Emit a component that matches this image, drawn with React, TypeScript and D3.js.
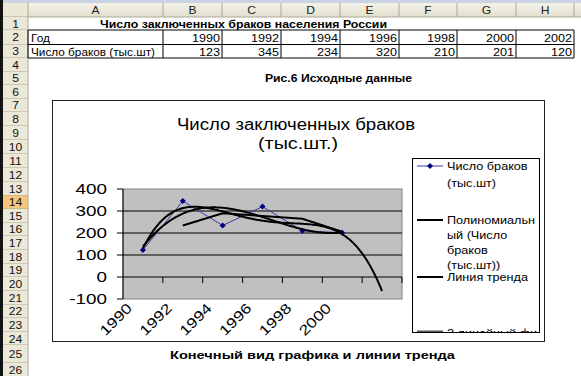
import React from 'react';
import * as d3 from 'd3';

// ---------- data ----------
const years = [1990, 1992, 1994, 1996, 1998, 2000, 2002];
const marriages = [123, 345, 234, 320, 210, 201, 120];
const chartYears = ['1990', '1992', '1994', '1996', '1998', '2000'];
const chartValues = [123, 345, 234, 320, 210, 201];
const yTicks = [-100, 0, 100, 200, 300, 400];
const colLetters = ['A', 'B', 'C', 'D', 'E', 'F', 'G', 'H'];
const sheetTitle = 'Число заключенных браков населения России';
const rowLabelYear = 'Год';
const rowLabelValue = 'Число браков (тыс.шт)';
const figCaption = 'Рис.6 Исходные данные';
const bottomCaption = 'Конечный вид графика и линии тренда';
const chartTitle = ['Число заключенных браков', '(тыс.шт.)'];
const legendSeries = ['Число браков', '(тыс.шт)'];
const legendPoly = ['Полиномиальн', 'ый (Число', 'браков', '(тыс.шт))'];
const legendTrend = ['Линия тренда'];
const legendMA = ['2 линейный фильтр'];
const polyDegree = 4;
const polyForward = 1;
const trendDegree = 3;
const maPeriod = 2;

// ---------- layout ----------
const W = 581, H = 376;
const FONT = "Arial, 'Liberation Sans', sans-serif";
const colEdges = [28, 163, 222, 281, 340, 399, 457, 516, 574, 640];
const rowEdges = [17, 30, 44.5, 58, 71.5, 85, 98.5, 112, 125.5, 139.5, 153.5, 167.5, 181.5, 195.5, 209, 222.5, 236, 250, 263.5, 277, 291, 304.5, 318, 332, 345, 363, 377];
const activeRow = 14;

function polyfit(xs: number[], ys: number[], deg: number): number[] {
  const m = deg + 1;
  const A: number[][] = Array.from({ length: m }, () => new Array(m + 1).fill(0));
  for (let i = 0; i < xs.length; i++) {
    for (let r = 0; r < m; r++) {
      for (let c = 0; c < m; c++) A[r][c] += Math.pow(xs[i], r + c);
      A[r][m] += ys[i] * Math.pow(xs[i], r);
    }
  }
  for (let p = 0; p < m; p++) {
    let best = p;
    for (let r = p + 1; r < m; r++) if (Math.abs(A[r][p]) > Math.abs(A[best][p])) best = r;
    [A[p], A[best]] = [A[best], A[p]];
    for (let r = 0; r < m; r++) {
      if (r === p) continue;
      const f = A[r][p] / A[p][p];
      for (let c = p; c <= m; c++) A[r][c] -= f * A[p][c];
    }
  }
  return A.map((row, i) => row[m] / row[i]);
}
const evalPoly = (c: number[], x: number) => c.reduce((s, v, i) => s + v * Math.pow(x, i), 0);

function Txt(p: any) {
  const { x, y, size, anchor = 'start', bold = false, len, children, fill = '#000', rotate = 0, sx = 1 } = p;
  return (
    <text
      transform={`translate(${x},${y}) rotate(${rotate}) scale(${sx},1)`}
      fontSize={size}
      fontFamily={FONT}
      fontWeight={bold ? 'bold' : 'normal'}
      textAnchor={anchor}
      fill={fill}
      textLength={len}
      lengthAdjust={len ? 'spacingAndGlyphs' : undefined}
    >
      {children}
    </text>
  );
}

export default function App() {
  // chart scales
  const nCat = chartValues.length + polyForward;
  const cats = d3.range(1, nCat + 1);
  const plotL = 123, plotR = 402, plotT = 189, plotB = 299;
  const xBand = d3.scaleBand<number>().domain(cats).range([plotL, plotR]);
  const xc = (i: number) => (xBand(i) as number) + xBand.bandwidth() / 2;
  const xLin = d3.scaleLinear().domain([0.5, nCat + 0.5]).range([plotL, plotR]);
  const y = d3.scaleLinear().domain([-100, 400]).range([plotB, plotT]);

  const xs = chartValues.map((_, i) => i + 1);
  const cPoly = polyfit(xs, chartValues, polyDegree);
  const cTrend = polyfit(xs, chartValues, trendDegree);
  const sample = (from: number, to: number, c: number[]) =>
    d3.range(0, 201).map((k) => {
      const xv = from + ((to - from) * k) / 200;
      return [xv, evalPoly(c, xv)] as [number, number];
    });
  const curve = d3.line<[number, number]>().x((d) => xLin(d[0])).y((d) => y(d[1]));
  const polyPath = curve(sample(1, chartValues.length + polyForward, cPoly)) || '';
  const trendPath = curve(sample(1, chartValues.length, cTrend)) || '';
  const ma: [number, number][] = [];
  for (let i = maPeriod - 1; i < chartValues.length; i++) {
    const s = d3.sum(chartValues.slice(i - maPeriod + 1, i + 1)) / maPeriod;
    ma.push([i + 1, s]);
  }
  const maPath = curve(ma) || '';
  const dataLine = d3.line<number>().x((_, i) => xc(i + 1)).y((d) => y(d));
  const diamond = (cx: number, cy: number, r = 3) => `M${cx},${cy - r}L${cx + r},${cy}L${cx},${cy + r}L${cx - r},${cy}Z`;

  const headerBg = '#ebe8d8';
  const headerLine = '#aca899';

  // legend
  const lgL = 412, lgR = 539, lgT = 158, lgB = 332;
  const symX1 = 417, symX2 = 443, lgTextX = 447;
  const lgSize = 11.5, lgSx = 1.1;

  return (
    <svg width={W} height={H} style={{ position: 'absolute', left: 0, top: 0, background: '#fff' }}>
      <defs>
        <clipPath id="lgclip">
          <rect x={lgL} y={lgT} width={lgR - lgL} height={lgB - lgT} />
        </clipPath>
        <linearGradient id="hdr" x1="0" y1="0" x2="0" y2="1">
          <stop offset="0" stopColor="#f4f2e8" />
          <stop offset="1" stopColor="#e2dfcc" />
        </linearGradient>
      </defs>
      <rect x={0} y={0} width={W} height={H} fill="#fff" />
      {/* top strip */}
      <rect x={0} y={0} width={W} height={3} fill="#c9d3e3" />
      {/* column headers */}
      <rect x={0} y={3} width={W} height={14} fill="url(#hdr)" />
      <rect x={3} y={3} width={25} height={14} fill={headerBg} />
      {colLetters.map((c, i) => (
        <g key={c}>
          <line x1={colEdges[i + 1]} x2={colEdges[i + 1]} y1={3} y2={17} stroke={headerLine} />
          <Txt x={(colEdges[i] + colEdges[i + 1]) / 2} y={14} size={10.5} sx={1.15} anchor="middle" fill="#222">
            {c}
          </Txt>
        </g>
      ))}
      <line x1={0} x2={W} y1={17} y2={17} stroke={headerLine} />
      {/* row headers */}
      {rowEdges.slice(0, -1).map((t, i) => {
        const b = rowEdges[i + 1];
        const active = i + 1 === activeRow;
        return (
          <g key={i}>
            <rect x={3} y={t} width={25} height={b - t} fill={active ? '#f7c57c' : headerBg} />
            <line x1={3} x2={28} y1={b} y2={b} stroke={headerLine} />
            <Txt x={15.5} y={(t + b) / 2 + 4} size={10.5} sx={1.15} anchor="middle" fill="#111">
              {i + 1}
            </Txt>
          </g>
        );
      })}
      <line x1={28} x2={28} y1={3} y2={H} stroke={headerLine} />
      <rect x={0} y={0} width={3} height={H} fill="#111" />

      {/* table */}
      <Txt x={243.5} y={27.5} size={10.5} bold anchor="middle" len={287}>
        {sheetTitle}
      </Txt>
      {[rowEdges[1], rowEdges[2], rowEdges[3]].map((yy, i) => (
        <line key={'h' + i} x1={28} x2={colEdges[8]} y1={yy} y2={yy} stroke="#000" />
      ))}
      {colEdges.slice(0, 9).map((xx, i) => (
        <line key={'v' + i} x1={xx} x2={xx} y1={rowEdges[1]} y2={rowEdges[3]} stroke="#000" />
      ))}
      <Txt x={31} y={41.5} size={10.5} len={19}>{rowLabelYear}</Txt>
      <Txt x={31} y={55.5} size={10.5} len={124}>{rowLabelValue}</Txt>
      {years.map((yr, i) => (
        <Txt key={'y' + yr} x={colEdges[i + 2] - 2} y={41.5} size={10.5} sx={1.2} anchor="end">
          {yr}
        </Txt>
      ))}
      {marriages.map((v, i) => (
        <Txt key={'m' + i} x={colEdges[i + 2] - 2} y={55.5} size={10.5} sx={1.2} anchor="end">
          {v}
        </Txt>
      ))}
      <Txt x={338.5} y={82} size={10.5} bold anchor="middle" len={147}>
        {figCaption}
      </Txt>
      <Txt x={312.5} y={359} size={11} bold anchor="middle" len={285}>
        {bottomCaption}
      </Txt>

      {/* chart area */}
      <rect x={52.5} y={100.5} width={492} height={241} fill="#fff" stroke="#222" />
      <Txt x={296} y={130} size={16} anchor="middle" len={238}>
        {chartTitle[0]}
      </Txt>
      <Txt x={298} y={149} size={16} anchor="middle" len={80}>
        {chartTitle[1]}
      </Txt>

      {/* plot area */}
      <rect x={plotL} y={plotT} width={plotR - plotL} height={plotB - plotT} fill="#c0c0c0" stroke="#808080" />
      {yTicks.filter((t) => t > -100 && t < 400).map((t) => (
        <line key={'g' + t} x1={plotL} x2={plotR} y1={y(t)} y2={y(t)} stroke="#000" />
      ))}
      <line x1={plotL} x2={plotL} y1={plotT} y2={plotB} stroke="#000" />
      {yTicks.map((t) => (
        <g key={'yt' + t}>
          <line x1={plotL - 6} x2={plotL} y1={y(t)} y2={y(t)} stroke="#000" />
          <Txt x={107} y={y(t) + 5.2} size={14.5} sx={1.3} anchor="end">
            {t}
          </Txt>
        </g>
      ))}
      {cats.map((c) => (
        <line key={'xt' + c} x1={xBand(c)! + xBand.bandwidth()} x2={xBand(c)! + xBand.bandwidth()} y1={y(0)} y2={y(0) + 6} stroke="#000" />
      ))}
      {chartYears.map((lab, i) => (
        <Txt key={'xl' + lab} x={xc(i + 1) - 10} y={309} size={14} sx={1.25} anchor="end" rotate={-45}>
          {lab}
        </Txt>
      ))}

      {/* series */}
      <path d={dataLine(chartValues) || ''} fill="none" stroke="#3b3ba6" strokeWidth={1} />
      {chartValues.map((v, i) => (
        <path key={'d' + i} d={diamond(xc(i + 1), y(v))} fill="#000080" />
      ))}
      <path d={maPath} fill="none" stroke="#000" strokeWidth={2} />
      <path d={trendPath} fill="none" stroke="#000" strokeWidth={2} />
      <path d={polyPath} fill="none" stroke="#000" strokeWidth={2} />

      {/* legend */}
      <rect x={lgL + 0.5} y={lgT + 0.5} width={lgR - lgL} height={lgB - lgT} fill="#fff" stroke="#000" />
      <g clipPath="url(#lgclip)">
        <line x1={symX1} x2={symX2} y1={166} y2={166} stroke="#3b3ba6" />
        <path d={diamond((symX1 + symX2) / 2, 166)} fill="#000080" />
        {legendSeries.map((t, i) => (
          <Txt key={'ls' + i} x={lgTextX} y={166 + 4 + i * 16.5} size={lgSize} sx={lgSx}>{t}</Txt>
        ))}
        <line x1={symX1} x2={symX2} y1={220} y2={220} stroke="#000" strokeWidth={2} />
        {legendPoly.map((t, i) => (
          <Txt key={'lp' + i} x={lgTextX} y={220 + 4 + i * 15} size={lgSize} sx={lgSx}>{t}</Txt>
        ))}
        <line x1={symX1} x2={symX2} y1={277} y2={277} stroke="#000" strokeWidth={2} />
        {legendTrend.map((t, i) => (
          <Txt key={'lt' + i} x={lgTextX} y={277 + 4 + i * 15} size={lgSize} sx={lgSx}>{t}</Txt>
        ))}
        <line x1={symX1} x2={symX2} y1={332} y2={332} stroke="#555" strokeWidth={3} />
        {legendMA.map((t, i) => (
          <Txt key={'lm' + i} x={lgTextX} y={337 + i * 15} size={lgSize} sx={lgSx}>{t}</Txt>
        ))}
      </g>
    </svg>
  );
}
